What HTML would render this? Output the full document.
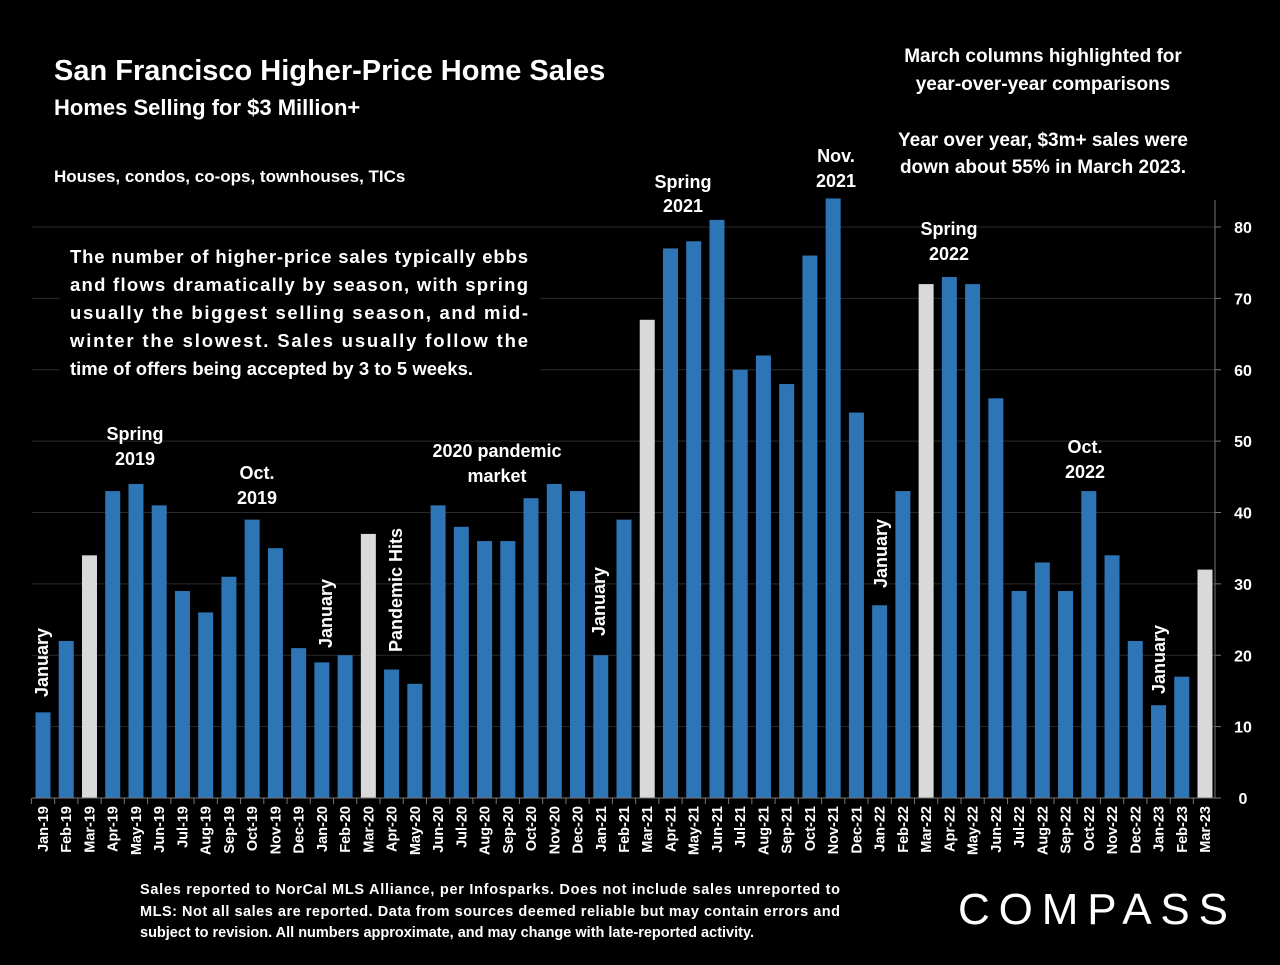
<!DOCTYPE html>
<html><head><meta charset="utf-8"><style>
body{margin:0;background:#000;}
svg text{font-family:"Liberation Sans",sans-serif;font-weight:bold;fill:#fff;}
</style></head><body>
<svg id="c" width="1280" height="960" xmlns="http://www.w3.org/2000/svg">
<rect width="1280" height="960" fill="#000"/>
<text x="54" y="80" font-size="29">San Francisco Higher-Price Home Sales</text>
<text x="54" y="115" font-size="22">Homes Selling for  $3 Million+</text>
<text x="54" y="182" font-size="17">Houses, condos, co-ops, townhouses, TICs</text>
<g font-size="19" text-anchor="middle">
<text x="1043" y="62">March columns highlighted for</text>
<text x="1043" y="90">year-over-year comparisons</text>
<text x="1043" y="146">Year over year, $3m+ sales were</text>
<text x="1043" y="173">down about 55% in March 2023.</text>
</g>
<g id="grid"></g>
<rect x="60" y="236" width="480" height="148" fill="#000"/>
<g font-size="18.5">
<text x="70" y="263" textLength="458">The number of higher-price sales typically ebbs</text>
<text x="70" y="291" textLength="458">and flows dramatically by season, with spring</text>
<text x="70" y="319" textLength="458">usually the biggest selling season, and mid-</text>
<text x="70" y="347" textLength="458">winter the slowest. Sales usually follow the</text>
<text x="70" y="375">time of offers being accepted by 3 to 5 weeks.</text>
</g>
<g id="bars"></g><g id="axes"></g>
<g font-size="18" text-anchor="middle">
<text x="135" y="440">Spring</text><text x="135" y="465">2019</text>
<text x="257" y="479">Oct.</text><text x="257" y="504">2019</text>
<text x="497" y="457">2020 pandemic</text><text x="497" y="482">market</text>
<text x="683" y="188">Spring</text><text x="683" y="212">2021</text>
<text x="836" y="162">Nov.</text><text x="836" y="187">2021</text>
<text x="949" y="235">Spring</text><text x="949" y="260">2022</text>
<text x="1085" y="453">Oct.</text><text x="1085" y="478">2022</text>
<g text-anchor="start">
<text transform="translate(48,697) rotate(-90)">January</text>
<text transform="translate(332,648) rotate(-90)">January</text>
<text transform="translate(402,652) rotate(-90)">Pandemic Hits</text>
<text transform="translate(605,636) rotate(-90)">January</text>
<text transform="translate(887,588) rotate(-90)">January</text>
<text transform="translate(1165,694) rotate(-90)">January</text>
</g></g>
<g font-size="14.5">
<text x="140" y="894" textLength="700">Sales reported to NorCal MLS Alliance, per Infosparks. Does not include sales unreported to</text>
<text x="140" y="916" textLength="700">MLS: Not all sales are reported. Data from sources deemed reliable but may contain errors and</text>
<text x="140" y="937">subject to revision.  All numbers approximate, and may change with late-reported activity.</text>
</g>
<text x="958" y="924" font-size="44" textLength="270" style="font-weight:normal">COMPASS</text>
</svg>
<script>
const categories=["Jan-19","Feb-19","Mar-19","Apr-19","May-19","Jun-19","Jul-19","Aug-19","Sep-19","Oct-19","Nov-19","Dec-19","Jan-20","Feb-20","Mar-20","Apr-20","May-20","Jun-20","Jul-20","Aug-20","Sep-20","Oct-20","Nov-20","Dec-20","Jan-21","Feb-21","Mar-21","Apr-21","May-21","Jun-21","Jul-21","Aug-21","Sep-21","Oct-21","Nov-21","Dec-21","Jan-22","Feb-22","Mar-22","Apr-22","May-22","Jun-22","Jul-22","Aug-22","Sep-22","Oct-22","Nov-22","Dec-22","Jan-23","Feb-23","Mar-23"];
const sales=[12,22,34,43,44,41,29,26,31,39,35,21,19,20,37,18,16,41,38,36,36,42,44,43,20,39,67,77,78,81,60,62,58,76,84,54,27,43,72,73,72,56,29,33,29,43,34,22,13,17,32];
const yTicks=[0,10,20,30,40,50,60,70,80];
const NS="http://www.w3.org/2000/svg";
const y=v=>798-v*7.1375;
const x=i=>43+i*23.24;
function mk(tag,attrs,parent){const e=document.createElementNS(NS,tag);for(const k in attrs)e.setAttribute(k,attrs[k]);parent.appendChild(e);return e;}
const grid=document.getElementById('grid'),bars=document.getElementById('bars'),axes=document.getElementById('axes');
yTicks.forEach(t=>{
 if(t>0){const g=mk('line',{x1:32,x2:1215,y1:y(t),y2:y(t),stroke:'#2a2a2a','stroke-width':1},grid);
 
 }
 const tk=mk('line',{x1:1215,x2:1221,y1:y(t),y2:y(t),stroke:'#777'},axes);
 
 
 const l=mk('text',{x:1243,y:y(t)+6,'font-size':16,'text-anchor':'middle'},axes);l.textContent=t;
 
 
});
categories.forEach((c,i)=>{
 const v=sales[i];const march=c.startsWith('Mar');
 const r=mk('rect',{x:x(i)-7.5,y:y(v),width:15,height:798-y(v),fill:march?'#d9d9d9':'#2e75b6'},bars);
 
 
 const tk=mk('line',{x1:x(i)-11.6,x2:x(i)-11.6,y1:798,y2:804,stroke:'#777'},axes);
 
 
 const l=mk('text',{transform:`translate(${x(i)+5},806) rotate(-90)`,'font-size':14.5,'text-anchor':'end'},axes);l.textContent=c;
 
 
});
const xa=mk('line',{x1:32,x2:1215,y1:798,y2:798,stroke:'#777'},axes);


const ya=mk('line',{x1:1215,x2:1215,y1:200,y2:798,stroke:'#777'},axes);


</script>
</body></html>
